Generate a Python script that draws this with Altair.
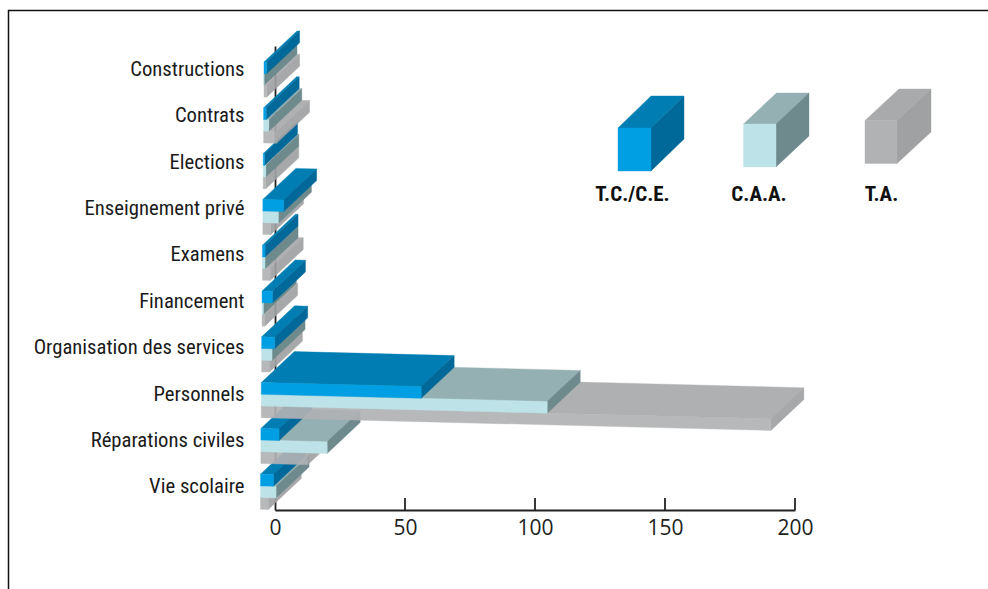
import altair as alt
import pandas as pd

# Number of cases per domain and court level
categories = ["Constructions", "Contrats", "Elections", "Enseignement privé", "Examens",
              "Financement", "Organisation des services", "Personnels",
              "Réparations civiles", "Vie scolaire"]
tc_ce = [1, 1, 0.5, 8, 1, 4, 5, 61.5, 7, 5]
caa = [0, 2, 1, 6, 1, 0.5, 4, 110, 25.5, 6]
ta = [1, 5, 1, 3, 3, 1, 3, 196, 18, 3]
x_ticks = [0, 50, 100, 150, 200]
series_names = ["T.C./C.E.", "C.A.A.", "T.A."]

# front, top and side shades of each series
palette = {
    "T.C./C.E.": ("#009FE3", "#007DB3", "#00699A"),
    "C.A.A.": ("#BDE2E7", "#94B0B3", "#6F8A8D"),
    "T.A.": ("#B1B2B4", "#A9AAAC", "#A0A1A3"),
}

NARROW = "Roboto Condensed, DejaVu Sans Condensed, Lato"
WIDTH, HEIGHT = 520, 464
LEFT, TOP = 275, 46
PX_X = WIDTH / 200
PX_Y = HEIGHT / 10
x_scale = alt.Scale(domain=[0, 200], nice=False, zero=False)
y_scale = alt.Scale(domain=[-0.5, 9.5], reverse=True, nice=False, zero=False)


def to_x(px):
    return (px - LEFT) / PX_X


def to_y(py):
    return (py - TOP) / PX_Y - 0.5


polys = []


def cuboid(name, key, x0, x1, y0, h, slope, dx, dy, opacity):
    """Add the three faces of a box, all lengths in screen pixels."""
    front, top, side = palette[key]
    fx0, fy0 = x0, y0
    fx1, fy1 = x1, y0 + slope * (x1 - x0)
    faces = {
        "top": (top, [(fx0, fy0), (fx1, fy1), (fx1 + dx, fy1 + dy), (fx0 + dx, fy0 + dy)]),
        "side": (side, [(fx1, fy1), (fx1 + dx, fy1 + dy), (fx1 + dx, fy1 + dy + h), (fx1, fy1 + h)]),
        "front": (front, [(fx0, fy0), (fx1, fy1), (fx1, fy1 + h), (fx0, fy0 + h)]),
    }
    for face, (paint, pts) in faces.items():
        for n, (px, py) in enumerate(pts):
            polys.append({"face": f"{name}-{key}-{face}", "vertex": n, "x": to_x(px), "y": to_y(py),
                          "paint": paint, "alpha": opacity})


# lower rows first, so the upper rows overlap them; T.A. at the back of each group
for i in reversed(range(len(categories))):
    left = 264 - 0.39 * i
    row_top = 62 + 45.8 * i
    for level, key, values in reversed(list(zip(range(3), series_names, [tc_ce, caa, ta]))):
        cuboid(f"r{i:02d}", key, left, left + values[i] * PX_X, row_top + 11.7 * level, 11.7,
               0.025, 33, -31, 0.92 if key == "T.A." else 1)

# legend keys
cuboid("key", "T.C./C.E.", 618, 651, 128, 43, 0, 33, -32, 1)
cuboid("key", "C.A.A.", 743.5, 776, 124, 43, 0, 33, -31, 1)
cuboid("key", "T.A.", 865, 897, 120.5, 43, 0, 34, -31.5, 1)

boxes = alt.Chart(pd.DataFrame(polys)).mark_line(interpolate="linear-closed", strokeWidth=0.4).encode(
    x=alt.X("x:Q", scale=x_scale,
            axis=alt.Axis(values=x_ticks, title=None, tickSize=0, grid=False, format="d",
                          domainColor="#222222", domainWidth=1.8, labelFont="Open Sans",
                          labelFontSize=21, labelColor="#222222", labelPadding=7,
                          labelOverlap=False, labelFlush=False)),
    y=alt.Y("y:Q", scale=y_scale,
            axis=alt.Axis(values=list(range(10)), title=None, tickSize=0, grid=False,
                          domainColor="#222222", domainWidth=1.8,
                          labelExpr="[" + ",".join(repr(c) for c in categories) + "][datum.value]",
                          labelFont=NARROW, labelFontSize=20.7, labelLimit=400,
                          labelColor="#1a1a1a", labelPadding=31, labelOverlap=False)),
    detail="face:N",
    order="vertex:Q",
    fill=alt.Fill("paint:N", scale=None),
    stroke=alt.Stroke("paint:N", scale=None),
    opacity=alt.Opacity("alpha:Q", scale=None),
)

# axis ticks rising from the baseline
tick_df = pd.DataFrame({"x": x_ticks[1:], "y": 9.5, "y2": 9.5 - 12 / PX_Y})
ticks = alt.Chart(tick_df).mark_rule(color="#222222", strokeWidth=1.8).encode(
    x=alt.X("x:Q", scale=x_scale), y=alt.Y("y:Q", scale=y_scale), y2="y2:Q")

legend_df = pd.DataFrame({"name": series_names,
                          "x": [to_x(632.5), to_x(759), to_x(881.5)],
                          "y": [to_y(195)] * 3})
legend_text = alt.Chart(legend_df).mark_text(font=NARROW, fontWeight="bold",
                                             fontSize=21, color="#111111").encode(
    x=alt.X("x:Q", scale=x_scale), y=alt.Y("y:Q", scale=y_scale), text="name:N")

frame_top = alt.Chart(pd.DataFrame({"a": [0]})).mark_rule(color="#111111", strokeWidth=1.5).encode(
    x=alt.value(8 - LEFT), x2=alt.value(988 - LEFT), y=alt.value(10.5 - TOP))
frame_left = alt.Chart(pd.DataFrame({"a": [0]})).mark_rule(color="#111111", strokeWidth=1.5).encode(
    x=alt.value(8.5 - LEFT), y=alt.value(10 - TOP), y2=alt.value(589 - TOP))

chart = alt.layer(ticks, boxes, legend_text, frame_top, frame_left).properties(
    width=WIDTH, height=HEIGHT,
    padding={"left": LEFT, "top": TOP, "right": 988 - LEFT - WIDTH, "bottom": 589 - TOP - HEIGHT},
    autosize=alt.AutoSizeParams(type="none"),
    background="white",
).configure_view(stroke=None)

chart.save("out.html", embed_options={"renderer": "svg", "actions": False})
